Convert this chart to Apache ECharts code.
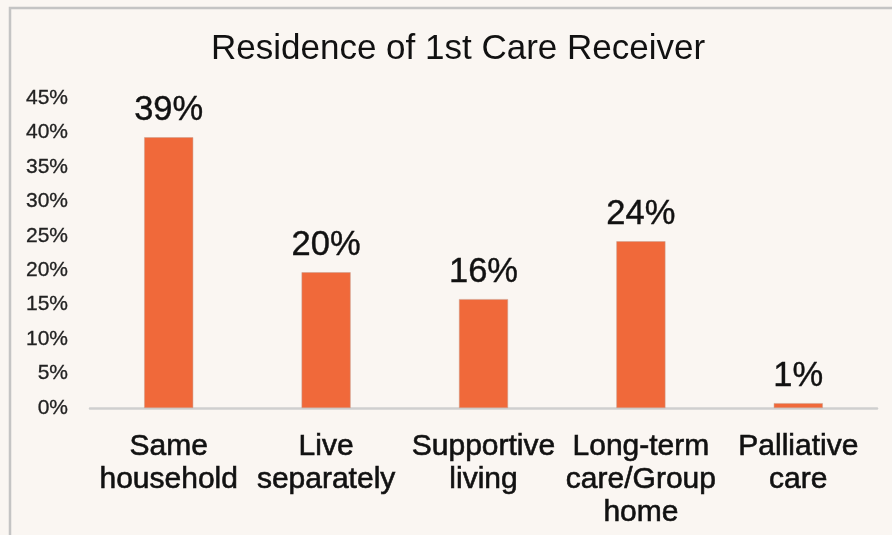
<!DOCTYPE html>
<html>
<head>
<meta charset="utf-8">
<script src="https://cdn.jsdelivr.net/npm/echarts@6/dist/echarts.min.js"></script>
<style>
  html, body { margin: 0; padding: 0; background: #faf6f2; }
  #chart { width: 892px; height: 535px; }
</style>
</head>
<body>
<div id="chart"></div>
<script>
// categories (line breaks as in the picture)
var categories = ['Same\nhousehold', 'Live\nseparately', 'Supportive\nliving', 'Long-term\ncare/Group\nhome', 'Palliative\ncare'];
// bar heights in percent
var values = [39.3, 19.7, 15.8, 24.2, 0.7];
// labels printed on top of bars
var valueLabels = ['39%', '20%', '16%', '24%', '1%'];

var myChart = echarts.init(document.getElementById('chart'));

var option = {
    backgroundColor: '#faf6f2',
    textStyle: { fontFamily: 'Liberation Sans, Arial, sans-serif' },
    title: {
        text: 'Residence of 1st Care Receiver',
        left: 206,
        top: 27,
        textStyle: {
            fontSize: 35,
            fontWeight: 'normal',
            color: '#111'
        }
    },
    // outer frame
    graphic: [{
        type: 'rect',
        shape: { x: 10, y: 8, width: 900, height: 540 },
        style: { fill: 'none', stroke: '#c4c4c4', lineWidth: 2.5 },
        silent: true
    }],
    grid: {
        left: 90,
        right: 15,
        top: 98,
        bottom: 127
    },
    xAxis: {
        type: 'category',
        data: categories,
        axisLine: { lineStyle: { color: '#cfcfcf', width: 2.5 } },
        axisTick: { show: false },
        axisLabel: {
            interval: 0,
            margin: 22,
            fontSize: 30,
            lineHeight: 33,
            color: '#111',
            textBorderColor: '#111',
            textBorderWidth: 0.6
        }
    },
    yAxis: {
        type: 'value',
        min: 0,
        max: 45,
        interval: 5,
        splitLine: { show: false },
        axisLine: { show: false },
        axisTick: { show: false },
        axisLabel: {
            margin: 22,
            fontSize: 21,
            color: '#222',
            textBorderColor: '#222',
            textBorderWidth: 0.3,
            formatter: '{value}%'
        }
    },
    series: [{
        type: 'bar',
        data: values,
        barWidth: 49,
        itemStyle: {
            color: '#f0693a',
            borderColor: '#c9a090',
            borderWidth: 0.5
        },
        label: {
            show: true,
            position: 'top',
            distance: 9,
            fontSize: 34.5,
            color: '#111',
            textBorderColor: '#111',
            textBorderWidth: 0.4,
            formatter: function (p) { return valueLabels[p.dataIndex]; }
        }
    }]
};

myChart.setOption(option);
</script>
</body>
</html>
